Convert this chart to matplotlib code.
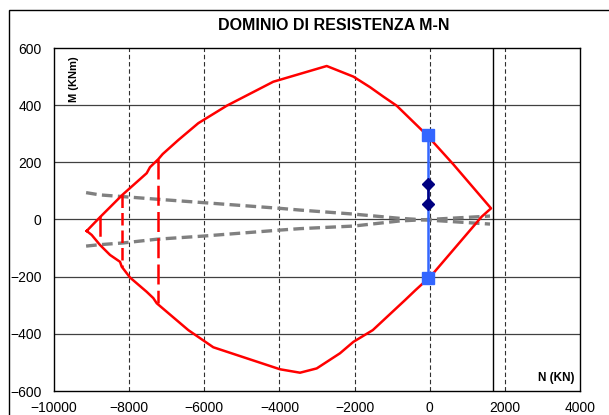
import matplotlib
matplotlib.use("Agg")
import matplotlib.pyplot as plt
from matplotlib.patches import Rectangle

plt.rcParams['font.family'] = ['Liberation Sans', 'DejaVu Sans']

# resistance domain (closed outline), upper branch then lower branch
dom_N = [-9130, -8776, -8182, -7533, -7445, -7224, -7107, -6691, -6159, -5403,
         -4163, -2742, -2034, -1589, -1235, -878, -80, 628, 1632,
         1384, 96, -37, -378, -657, -1515, -2031, -2388, -3008, -3452, -3985,
         -5760, -6425, -7266, -7357, -7533, -7977, -8198, -8243, -8509, -8776,
         -8997, -9130]
dom_M = [-40, 8, 86, 162, 183, 211, 229, 278, 337, 398,
         482, 537, 500, 463, 430, 398, 296, 193, 39,
         10, -188, -206, -247, -282, -387, -428, -468, -521, -536, -524,
         -447, -387, -293, -275, -253, -203, -165, -148, -124, -89,
         -54, -40]

# vertical limit segments on the left of the domain
lim1_N, lim1_M = [-8776, -8776], [8, -55]
lim2_N, lim2_M = [-8182, -8182], [85, -165]
lim3_N, lim3_M = [-7224, -7224], [211, -293]

# grey dashed curves
grey_N = [-9146, -8776, -8155, -7266, -6026, -3985, -3452, -2034, -791, -37, 1605]
grey_up = [94, 86, 80, 71, 59, 39, 33, 19, 4, -2, -16]
grey_lo = [-93, -88, -82, -69, -58, -37, -32, -23, -5, 0, 12]

# design actions
blue_N, blue_M = [-50, -50], [296, -206]
diam_N, diam_M = [-50, -50], [123, 53]

# tensile limit line
N_lim = 1680

fig = plt.figure(figsize=(6.09, 4.15), dpi=100)
fig.patches.append(Rectangle((9 / 609, -0.1), 2, 1.1 - 10 / 415,
                             transform=fig.transFigure, fill=False,
                             edgecolor='black', linewidth=1.0))
ax = fig.add_axes([54 / 609, 1 - 391 / 415, 526 / 609, 343 / 415])

ax.set_xlim(-10000, 4000)
ax.set_ylim(-600, 600)
ax.set_xticks(range(-10000, 4001, 2000))
ax.set_yticks(range(-600, 601, 200))

for y in range(-400, 401, 200):
    ax.axhline(y, color='#404040', linewidth=0.9, zorder=1)
for x in range(-8000, 2001, 2000):
    ax.axvline(x, color='#303030', linewidth=0.8, linestyle=(0, (4, 2.5)), zorder=1)
ax.axvline(N_lim, color='black', linewidth=1.0, zorder=1)

ax.plot(grey_N, grey_up, color='#808080', linewidth=2.4, dashes=(3.2, 1.6), zorder=2)
ax.plot(grey_N, grey_lo, color='#808080', linewidth=2.4, dashes=(3.2, 1.6), zorder=2)

ax.plot(dom_N, dom_M, color='#FF0000', linewidth=1.8, zorder=3)
ax.plot(lim1_N, lim1_M, color='#FF0000', linewidth=1.8, zorder=3)
ax.plot(lim2_N, lim2_M, color='#FF0000', linewidth=1.8, dashes=(5, 2), zorder=3)
ax.plot(lim3_N, lim3_M, color='#FF0000', linewidth=1.8, dashes=(8, 2.5), zorder=3)

ax.plot(blue_N, blue_M, color='#3366FF', linewidth=1.8, marker='s',
        markersize=8, zorder=4)
ax.plot(diam_N, diam_M, color='#000080', linewidth=1.8, marker='D',
        markersize=6.5, zorder=5)

for s in ax.spines.values():
    s.set_color('black')
    s.set_linewidth(1.0)
ax.tick_params(axis='both', length=0, labelsize=10)
ax.tick_params(axis='x', pad=7)
ax.tick_params(axis='y', pad=9)

ax.text(0.038, 0.975, 'M (KNm)', transform=ax.transAxes, rotation=90,
        fontsize=8, fontweight='bold', ha='center', va='top')
ax.text(0.99, 0.02, 'N (KN)', transform=ax.transAxes,
        fontsize=8.5, fontweight='bold', ha='right', va='bottom')
fig.text(334 / 609, 1 - 26 / 415, 'DOMINIO DI RESISTENZA M-N',
         fontsize=11.5, fontweight='bold', ha='center', va='center')

fig.savefig('out.png', dpi=100)
